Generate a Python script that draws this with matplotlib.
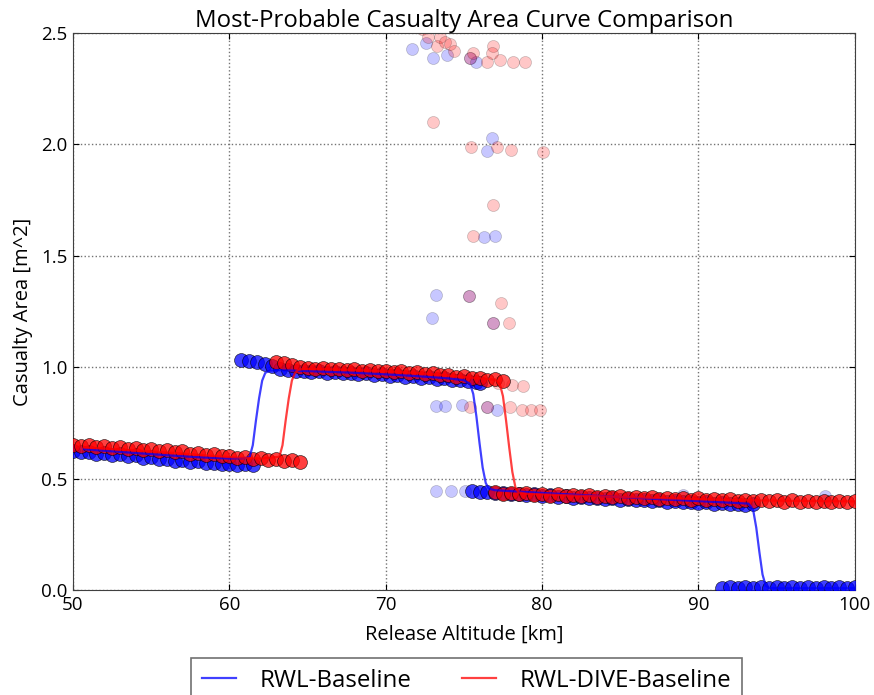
import matplotlib
matplotlib.use("Agg")
import matplotlib.pyplot as plt

plt.rcParams['font.family'] = ['Open Sans', 'DejaVu Sans']

# ---------------- data ----------------
# Dense scatter bands
blue_band_x = [50.0, 50.5, 51.0, 51.5, 52.0, 52.5, 53.0, 53.5, 54.0, 54.5, 55.0, 55.5, 56.0, 56.5,
               57.0, 57.5, 58.0, 58.5, 59.0, 59.5, 60.0, 60.5, 61.0, 61.5,
               60.75, 61.25, 61.75, 62.25, 62.75, 63.25, 63.75, 64.25, 64.75, 65.25, 65.75, 66.25,
               66.75, 67.25, 67.75, 68.25, 68.75, 69.25, 69.75, 70.25, 70.75, 71.25, 71.75, 72.25,
               72.75, 73.25, 73.75, 74.25, 74.75, 75.25, 75.75, 76.0,
               75.5, 76.0, 76.5, 77.0, 77.5, 78.0, 78.5, 79.0, 79.5, 80.0, 80.5, 81.0, 81.5, 82.0,
               82.5, 83.0, 83.5, 84.0, 84.5, 85.0, 85.5, 86.0, 86.5, 87.0, 87.5, 88.0, 88.5, 89.0,
               89.5, 90.0, 90.5, 91.0, 91.5, 92.0, 92.5, 93.0, 93.5,
               91.5, 92.0, 92.5, 93.0, 93.5, 94.0, 94.5, 95.0, 95.5, 96.0, 96.5, 97.0, 97.5, 98.0,
               98.5, 99.0, 99.5, 100.0]
blue_band_y = [0.624, 0.618, 0.621, 0.612, 0.616, 0.607, 0.610, 0.601, 0.604, 0.594, 0.597, 0.588,
               0.590, 0.581, 0.584, 0.575, 0.578, 0.569, 0.572, 0.564, 0.567, 0.562, 0.566, 0.562,
               1.032, 1.028, 1.024, 1.015, 1.004, 0.994, 0.988, 0.982, 0.984, 0.978, 0.981, 0.975,
               0.978, 0.972, 0.975, 0.969, 0.972, 0.966, 0.969, 0.962, 0.965, 0.958, 0.961, 0.953,
               0.956, 0.948, 0.950, 0.942, 0.944, 0.936, 0.934, 0.928,
               0.446, 0.441, 0.442, 0.435, 0.437, 0.430, 0.433, 0.426, 0.429, 0.422, 0.425, 0.418,
               0.421, 0.414, 0.417, 0.411, 0.414, 0.408, 0.411, 0.405, 0.408, 0.402, 0.405, 0.399,
               0.402, 0.396, 0.399, 0.393, 0.396, 0.390, 0.393, 0.387, 0.390, 0.385, 0.388, 0.383,
               0.386,
               0.008, 0.014, 0.008, 0.014, 0.008, 0.014, 0.008, 0.014, 0.008, 0.014, 0.008, 0.014,
               0.008, 0.014, 0.008, 0.014, 0.008, 0.014]

red_band_x = [50.0, 50.5, 51.0, 51.5, 52.0, 52.5, 53.0, 53.5, 54.0, 54.5, 55.0, 55.5, 56.0, 56.5,
              57.0, 57.5, 58.0, 58.5, 59.0, 59.5, 60.0, 60.5, 61.0, 61.5, 62.0, 62.5, 63.0, 63.5,
              64.0, 64.5,
              63.0, 63.5, 64.0, 64.5, 65.0, 65.5, 66.0, 66.5, 67.0, 67.5, 68.0, 68.5, 69.0, 69.5,
              70.0, 70.5, 71.0, 71.5, 72.0, 72.5, 73.0, 73.5, 74.0, 74.5, 75.0, 75.5, 76.0, 76.5,
              77.0, 77.5,
              77.0, 77.5, 78.0, 78.5, 79.0, 79.5, 80.0, 80.5, 81.0, 81.5, 82.0, 82.5, 83.0, 83.5,
              84.0, 84.5, 85.0, 85.5, 86.0, 86.5, 87.0, 87.5, 88.0, 88.5, 89.0, 89.5, 90.0, 90.5,
              91.0, 91.5, 92.0, 92.5, 93.0, 93.5, 94.0, 94.5, 95.0, 95.5, 96.0, 96.5, 97.0, 97.5,
              98.0, 98.5, 99.0, 99.5, 100.0]
red_band_y = [0.652, 0.645, 0.650, 0.641, 0.646, 0.638, 0.643, 0.634, 0.638, 0.629, 0.633, 0.624,
              0.628, 0.618, 0.622, 0.612, 0.616, 0.606, 0.609, 0.600, 0.603, 0.594, 0.598, 0.588,
              0.592, 0.583, 0.587, 0.579, 0.582, 0.574,
              1.025, 1.020, 1.012, 1.000, 0.998, 0.992, 0.996, 0.990, 0.994, 0.988, 0.991, 0.985,
              0.988, 0.982, 0.985, 0.978, 0.981, 0.974, 0.977, 0.970, 0.972, 0.964, 0.966, 0.958,
              0.960, 0.951, 0.953, 0.944, 0.946, 0.938,
              0.440, 0.432, 0.437, 0.429, 0.434, 0.427, 0.432, 0.424, 0.429, 0.422, 0.427, 0.420,
              0.425, 0.418, 0.423, 0.416, 0.421, 0.414, 0.419, 0.412, 0.417, 0.410, 0.415, 0.408,
              0.413, 0.406, 0.411, 0.404, 0.409, 0.403, 0.408, 0.401, 0.406, 0.400, 0.405, 0.399,
              0.404, 0.397, 0.402, 0.396, 0.401, 0.395, 0.400, 0.394, 0.399, 0.393, 0.398]

# Sparse outlier points
blue_out_x = [71.66, 72.57, 73.04, 73.9, 75.4, 75.8, 76.77, 76.49, 76.3, 77.0, 73.2, 75.34,
              72.97, 76.87, 73.2, 73.8, 74.85, 76.45, 77.1, 73.2, 74.2, 75.1, 89.0, 98.1]
blue_out_y = [2.43, 2.456, 2.39, 2.40, 2.39, 2.37, 2.03, 1.97, 1.585, 1.59, 1.324, 1.32,
              1.22, 1.20, 0.827, 0.827, 0.83, 0.82, 0.81, 0.444, 0.444, 0.444, 0.425, 0.42]
red_out_x = [72.3, 72.7, 73.25, 73.47, 73.79, 74.1, 74.4, 75.4, 75.6, 76.5, 76.84, 76.77, 77.3,
             78.15, 78.94, 73.04, 75.45, 77.13, 78.0, 80.03, 76.87, 75.6, 75.34, 77.4, 76.87,
             77.9, 77.17, 78.1, 78.75, 75.4, 76.45, 77.94, 78.69, 79.3, 79.9]
red_out_y = [2.52, 2.48, 2.44, 2.48, 2.46, 2.45, 2.42, 2.39, 2.41, 2.37, 2.44, 2.41, 2.38,
             2.37, 2.37, 2.10, 1.99, 1.99, 1.975, 1.966, 1.73, 1.59, 1.32, 1.29, 1.20,
             1.20, 0.93, 0.92, 0.917, 0.82, 0.82, 0.82, 0.81, 0.81, 0.81]

# Fitted curves
blue_line_x = [50.7, 52, 54, 56, 58, 60, 61.0, 61.3, 61.5, 61.7, 61.9, 62.1, 62.3, 62.6, 63, 64,
               66, 68, 70, 72, 74, 75.0, 75.4, 75.6, 75.8, 76.0, 76.2, 76.4, 76.6, 77, 80, 84, 88,
               92, 93.2, 93.5, 93.7, 93.9, 94.1, 94.3, 94.5, 95, 100]
blue_line_y = [0.632, 0.625, 0.615, 0.605, 0.596, 0.590, 0.592, 0.598, 0.65, 0.76, 0.86, 0.94,
               0.975, 0.985, 0.987, 0.985, 0.980, 0.975, 0.968, 0.960, 0.950, 0.942, 0.925, 0.88,
               0.78, 0.66, 0.55, 0.48, 0.455, 0.448, 0.436, 0.421, 0.406, 0.392, 0.388, 0.36,
               0.28, 0.17, 0.07, 0.02, 0.01, 0.008, 0.008]
red_line_x = [50.7, 52, 54, 56, 58, 60, 62, 63.2, 63.4, 63.6, 63.8, 64.0, 64.2, 64.4, 64.7, 65.0,
              66, 68, 70, 72, 74, 76, 77.0, 77.3, 77.5, 77.7, 77.9, 78.1, 78.3, 78.5, 79, 82, 86,
              90, 94, 98, 100]
red_line_y = [0.640, 0.635, 0.627, 0.618, 0.607, 0.597, 0.590, 0.598, 0.65, 0.76, 0.86, 0.94,
              0.975, 0.988, 0.992, 0.992, 0.992, 0.988, 0.982, 0.974, 0.963, 0.950, 0.944, 0.925,
              0.87, 0.76, 0.64, 0.53, 0.46, 0.438, 0.432, 0.424, 0.416, 0.408, 0.402, 0.399, 0.398]

labels = ["RWL-Baseline", "RWL-DIVE-Baseline"]
x_ticks = [50, 60, 70, 80, 90, 100]
y_ticks = [0.0, 0.5, 1.0, 1.5, 2.0, 2.5]

# ---------------- plot ----------------
fig = plt.figure(figsize=(8.74, 6.95), dpi=100)
ax = fig.add_axes([0.0835, 0.151, 0.8945, 0.8015])

ms_out = 75
ms_band = 100
ax.scatter(blue_out_x, blue_out_y, s=ms_out, c="blue", alpha=0.22, edgecolors="black",
           linewidths=0.5, zorder=2)
ax.scatter(red_out_x, red_out_y, s=ms_out, c="red", alpha=0.22, edgecolors="black",
           linewidths=0.5, zorder=2)
ax.scatter(blue_band_x, blue_band_y, s=ms_band, c="blue", alpha=0.75, edgecolors="black",
           linewidths=0.5, zorder=3)
ax.scatter(red_band_x, red_band_y, s=ms_band, c="red", alpha=0.75, edgecolors="black",
           linewidths=0.5, zorder=3)

ax.plot(blue_line_x, blue_line_y, color="blue", lw=1.6, alpha=0.75, label=labels[0], zorder=4)
ax.plot(red_line_x, red_line_y, color="red", lw=1.6, alpha=0.75, label=labels[1], zorder=4)

ax.set_xlim(50, 100)
ax.set_ylim(0, 2.5)
ax.set_xticks(x_ticks)
ax.set_yticks(y_ticks)
ax.set_xticklabels([str(t) for t in x_ticks])
ax.set_yticklabels([f"{t:.1f}" for t in y_ticks])
ax.tick_params(direction="in", top=True, right=True, labelsize=13.5, length=4, pad=4)
ax.grid(True, linestyle=":", color="0.45", lw=1)
ax.set_axisbelow(True)
for s in ax.spines.values():
    s.set_color("0.25")

ax.set_xlabel("Release Altitude [km]", fontsize=14.5, labelpad=8)
ax.set_ylabel("Casualty Area [m^2]", fontsize=14.5, labelpad=6)
ax.set_title("Most-Probable Casualty Area Curve Comparison", fontsize=17.3, pad=4)

leg = ax.legend(loc="upper center", bbox_to_anchor=(0.503, -0.1), ncol=2, fontsize=17.3,
                frameon=True, fancybox=False, edgecolor="0.3", handlelength=1.45,
                handletextpad=0.95, columnspacing=2.1, borderpad=0.45)
leg.get_frame().set_linewidth(1.2)

fig.savefig("out.png", dpi=100)
